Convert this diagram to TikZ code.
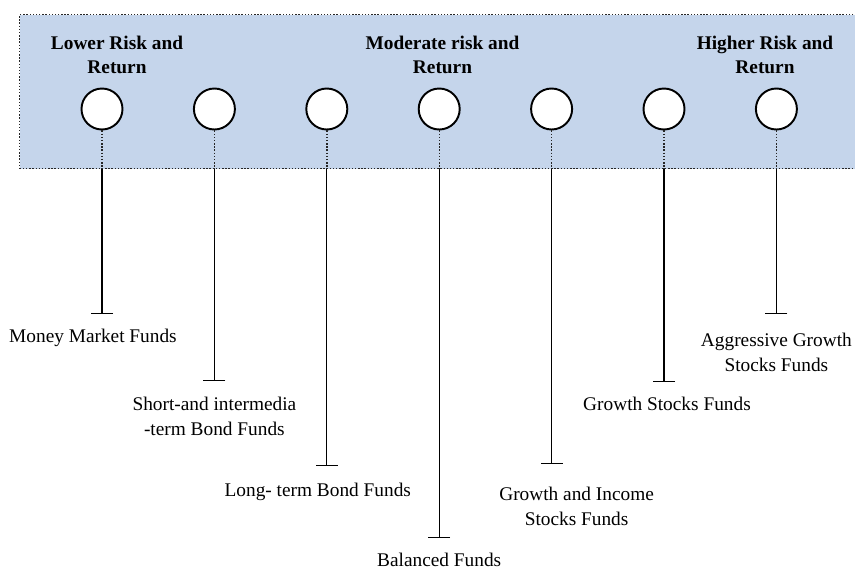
\documentclass[tikz,border=0pt]{standalone}
\usepackage{fontspec}
\setmainfont{Liberation Serif}
\usepackage{xcolor}
\usepackage{tikz}
\usetikzlibrary{arrows.meta, positioning}
\definecolor{bandblue}{RGB}{197,213,235}
\tikzset{every node/.style={font=\fontsize{11}{13.8}\selectfont}}

\begin{document}
\begin{tikzpicture}[node distance=2.248cm, every node/.style={font=\fontsize{11}{13.8}\selectfont}]
    % Define styles
    \tikzstyle{panel} = [rectangle, minimum width=16.95cm, minimum height=3.08cm, draw=black!85, densely dotted, line width=0.8pt, fill=bandblue]
    \tikzstyle{dot} = [circle, minimum size=0.82cm, inner sep=0pt, draw=black, line width=1.1pt, fill=white]
    \tikzstyle{heading} = [align=center, font=\fontsize{11}{13.8}\selectfont\bfseries]
    \tikzstyle{fundlabel} = [align=center, inner sep=0pt, anchor=north]
    \tikzstyle{dotline} = [densely dotted, draw=black!85, line width=0.8pt]
    \tikzstyle{stem} = [line width=0.75pt, -{Bar[width=0.44cm, line width=0.75pt]}]

    \useasboundingbox (0,0) rectangle (17.1,-11.42);

    % Risk band
    \node (band) [panel, anchor=north west] at (0.38,-0.28) {};

    % Headings
    \node (lowhead) [heading] at (2.34,-1.1) {Lower Risk and\\Return};
    \node (midhead) [heading] at (8.85,-1.1) {Moderate risk and\\Return};
    \node (highhead) [heading] at (15.3,-1.1) {Higher Risk and\\Return};

    % Circles
    \node (c1) [dot] at (2.04,-2.18) {};
    \node (c2) [dot, right of=c1] {};
    \node (c3) [dot, right of=c2] {};
    \node (c4) [dot, right of=c3] {};
    \node (c5) [dot, right of=c4] {};
    \node (c6) [dot, right of=c5] {};
    \node (c7) [dot, right of=c6] {};

    % Band edge and stem ends
    \foreach \i in {1,...,7}
        \coordinate (b\i) at (c\i |- band.south);
    \coordinate (t1) at (c1 |- 0,-6.28);
    \coordinate (t2) at (c2 |- 0,-7.62);
    \coordinate (t3) at (c3 |- 0,-9.32);
    \coordinate (t4) at (c4 |- 0,-10.76);
    \coordinate (t5) at (c5 |- 0,-9.28);
    \coordinate (t6) at (c6 |- 0,-7.64);
    \coordinate (t7) at (c7 |- 0,-6.28);

    % Stems
    \foreach \i in {1,...,7} {
        \draw [dotline] (c\i.south) -- (b\i);
        \draw [stem] (b\i) -- (t\i);
    }

    % Fund labels
    \node (money) [fundlabel, below=0.3cm of t1, xshift=-0.18cm] {Money Market Funds};
    \node (short) [fundlabel, below=0.32cm of t2] {Short-and intermedia\\-term Bond Funds};
    \node (long) [fundlabel, below=0.34cm of t3, xshift=-0.18cm] {Long- term Bond Funds};
    \node (balanced) [fundlabel, below=0.3cm of t4] {Balanced Funds};
    \node (income) [fundlabel, below=0.46cm of t5, xshift=0.5cm] {Growth and Income\\Stocks Funds};
    \node (growth) [fundlabel, below=0.3cm of t6, xshift=0.06cm] {Growth Stocks Funds};
    \node (aggressive) [fundlabel, below=0.38cm of t7] {Aggressive Growth\\Stocks Funds};
\end{tikzpicture}
\end{document}
